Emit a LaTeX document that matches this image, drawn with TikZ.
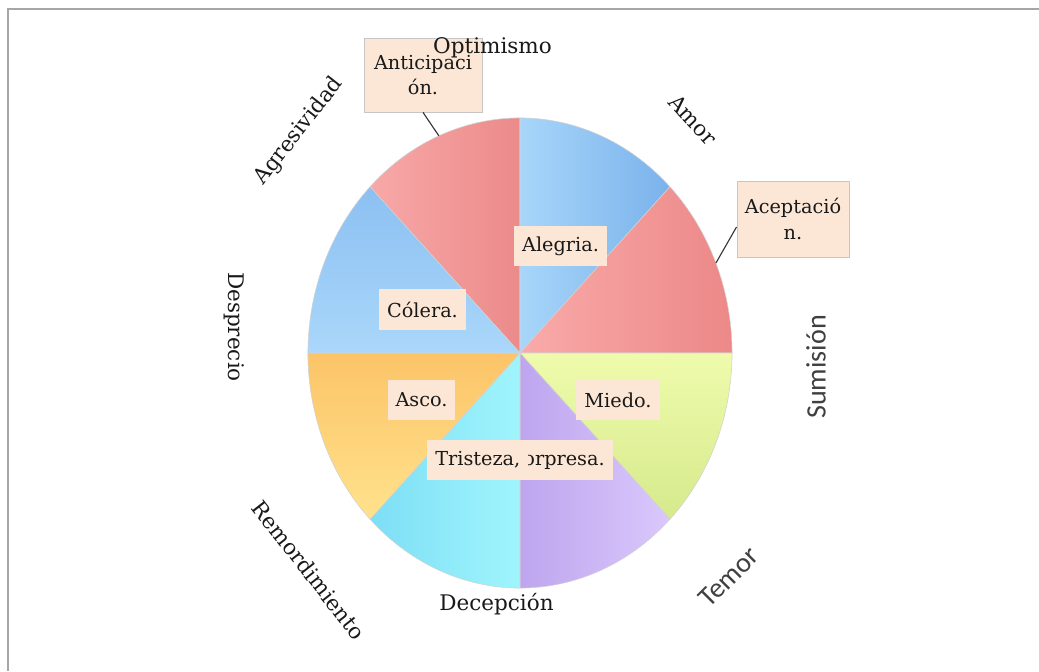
\documentclass[tikz,border=0pt]{standalone}
\usepackage{fontspec}
\setmainfont{DejaVu Serif}
\newfontfamily\sanslabel{Carlito}

\begin{document}
\begin{tikzpicture}[x=0.025cm, y=0.025cm,
    caja/.style={fill=cajafondo, inner xsep=0.2cm, inner ysep=0pt, minimum height=1cm,
      font=\fontsize{13.7}{18.4}\selectfont, text=black!90},
    cajaborde/.style={caja, draw=gray!45, line width=0.5pt, align=center},
    exterior/.style={font=\fontsize{15.3}{18}\selectfont, text=black!90},
    exteriorsans/.style={font=\sanslabel\fontsize{20}{24}\selectfont, text=black!75},
    guia/.style={draw=black!80, line width=0.8pt},
    sector/.style={draw=gray!35, line width=0.4pt}]
  % Colores de los sectores
  \definecolor{antic1}{RGB}{248, 168, 168}  % Anticipación
  \definecolor{antic2}{RGB}{236, 138, 138}
  \definecolor{aleg1}{RGB}{168, 214, 250}   % Alegría
  \definecolor{aleg2}{RGB}{122, 178, 235}
  \definecolor{acep1}{RGB}{250, 170, 170}   % Aceptación
  \definecolor{acep2}{RGB}{236, 136, 136}
  \definecolor{mied1}{RGB}{238, 251, 172}   % Miedo
  \definecolor{mied2}{RGB}{214, 234, 140}
  \definecolor{sorp1}{RGB}{190, 165, 238}   % Sorpresa
  \definecolor{sorp2}{RGB}{218, 200, 252}
  \definecolor{tris1}{RGB}{125, 222, 245}   % Tristeza
  \definecolor{tris2}{RGB}{160, 245, 252}
  \definecolor{asco1}{RGB}{252, 196, 104}   % Asco
  \definecolor{asco2}{RGB}{255, 226, 140}
  \definecolor{cole1}{RGB}{140, 192, 242}   % Cólera
  \definecolor{cole2}{RGB}{170, 215, 250}
  \definecolor{cajafondo}{RGB}{252, 231, 214}

  \useasboundingbox (-520,-318) rectangle (519,353);

  % Marco
  \draw[gray!70, line width=1pt] (-512,-318) -- (-512,344) -- (519,344);

  % Sectores
  \shadedraw[sector, left color=antic1, right color=antic2] (0,0) -- (90:5.3cm and 5.875cm)
    arc[start angle=90, end angle=135, x radius=5.3cm, y radius=5.875cm] -- cycle;
  \shadedraw[sector, left color=aleg1, right color=aleg2] (0,0) -- (45:5.3cm and 5.875cm)
    arc[start angle=45, end angle=90, x radius=5.3cm, y radius=5.875cm] -- cycle;
  \shadedraw[sector, left color=acep1, right color=acep2] (0,0) -- (0:5.3cm and 5.875cm)
    arc[start angle=0, end angle=45, x radius=5.3cm, y radius=5.875cm] -- cycle;
  \shadedraw[sector, top color=mied1, bottom color=mied2] (0,0) -- (-45:5.3cm and 5.875cm)
    arc[start angle=-45, end angle=0, x radius=5.3cm, y radius=5.875cm] -- cycle;
  \shadedraw[sector, left color=sorp1, right color=sorp2] (0,0) -- (-90:5.3cm and 5.875cm)
    arc[start angle=-90, end angle=-45, x radius=5.3cm, y radius=5.875cm] -- cycle;
  \shadedraw[sector, left color=tris1, right color=tris2] (0,0) -- (-135:5.3cm and 5.875cm)
    arc[start angle=-135, end angle=-90, x radius=5.3cm, y radius=5.875cm] -- cycle;
  \shadedraw[sector, top color=asco1, bottom color=asco2] (0,0) -- (180:5.3cm and 5.875cm)
    arc[start angle=180, end angle=225, x radius=5.3cm, y radius=5.875cm] -- cycle;
  \shadedraw[sector, top color=cole1, bottom color=cole2] (0,0) -- (135:5.3cm and 5.875cm)
    arc[start angle=135, end angle=180, x radius=5.3cm, y radius=5.875cm] -- cycle;

  % Puntos del borde para las guías
  \coordinate (bordeAnt) at (112.5:5.3cm and 5.875cm);
  \coordinate (bordeAce) at (22.5:5.3cm and 5.875cm);

  % Etiquetas de los sectores
  \node[cajaborde, minimum width=2.95cm, minimum height=1.85cm] (anticip) at (-97,278) {Anticipaci\\ón.};
  \node[cajaborde, minimum width=2.75cm, minimum height=1.9cm] (acept) at (273,134) {Aceptació\\n.};
  \node[caja] (alegria) at (40.5,107) {Alegria.};
  \node[caja] (colera) at (-97.5,43.5) {Cólera.};
  \node[caja] (asco) at (-98.5,-47) {Asco.};
  \node[caja] (miedo) at (98,-47) {Miedo.};
  \node[caja, anchor=east] (sorpresa) at (93,-107) {Sorpresa.};
  \node[caja, anchor=west] (tristeza) at (-93,-107) {Tristeza,};

  % Guías
  \draw[guia] (anticip.south) -- (bordeAnt);
  \draw[guia] (acept.188) -- (bordeAce);

  % Etiquetas exteriores
  \node[exterior] (optimismo) at (-27.5,305.5) {Optimismo};
  \node[exterior, rotate=-47] (amor) at (173,233) {Amor};
  \node[exteriorsans, rotate=90] (sumision) at (296,-14) {Sumisión};
  \node[exteriorsans, rotate=45] (temor) at (209,-224) {Temor};
  \node[exterior] (decepcion) at (-23.5,-251) {Decepción};
  \node[exterior, rotate=-52] (remord) at (-211,-217) {Remordimiento};
  \node[exterior, rotate=-90] (desprecio) at (-286,26) {Desprecio};
  \node[exterior, rotate=52] (agresiv) at (-221,222) {Agresividad};
\end{tikzpicture}
\end{document}
